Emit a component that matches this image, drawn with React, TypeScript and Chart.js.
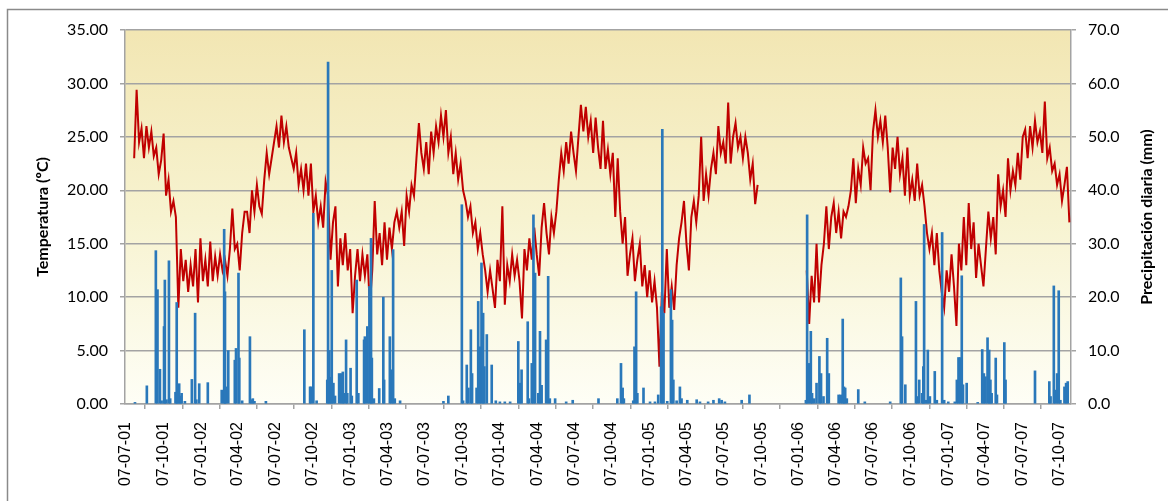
import React, { useEffect, useRef } from "react";
import { Chart, registerables } from "chart.js";
Chart.register(...registerables);

// Day 0 of the horizontal axis
const axisOrigin = "2001-07-07";

// Quarterly tick labels (dd-mm-yy)
const xTickLabels = [
  "07-07-01", "07-10-01", "07-01-02", "07-04-02", "07-07-02", "07-10-02",
  "07-01-03", "07-04-03", "07-07-03", "07-10-03", "07-01-04", "07-04-04",
  "07-07-04", "07-10-04", "07-01-05", "07-04-05", "07-07-05", "07-10-05",
  "07-01-06", "07-04-06", "07-07-06", "07-10-06", "07-01-07", "07-04-07",
  "07-07-07", "07-10-07",
];

// Temperature (ºC), one reading every tempStepDays days from tempStartDay
const tempStartDay = 20;
const tempStepDays = 6;
const tempValues: (number | null)[] = [
  // 2001-07 .. 2002-04
  23.0, 29.4, 24.5, 25.8, 23.0, 26.0, 24.0, 25.5, 23.2, 24.0, 21.5, 22.8, 25.3, 19.5, 21.0, 18.0,
  19.0, 17.5, 9.0, 14.5, 11.5, 13.5, 10.5, 13.0, 11.0, 14.5, 9.5, 15.5, 11.5, 13.5, 11.0, 15.2,
  11.5, 13.8, 12.0, 14.0, 12.5, 13.5, 12.0, 14.5, 18.3, 14.5, 15.0, 12.5, 16.0, 18.0,
  // 2002-04 .. 2003-02
  18.0, 16.0, 20.0, 18.0, 20.5, 18.5, 17.8, 21.0, 23.5, 21.5, 23.0, 24.5, 26.0, 24.0, 27.0, 24.5,
  26.0, 24.0, 23.0, 22.0, 23.5, 20.5, 22.0, 20.0, 22.5, 19.5, 22.5, 18.0, 19.5, 17.0, 18.5, 16.5,
  20.8, 19.5, 13.5, 17.0, 18.5, 11.0, 15.5, 13.0, 16.0, 12.5, 14.5, 8.5, 12.0, 14.5, 11.5, 14.0,
  // 2003-02 .. 2003-12
  12.0, 14.0, 9.2, 12.5, 19.0, 14.0, 16.0, 13.0, 17.0, 13.5, 16.5, 14.5, 17.0, 18.0, 16.5, 18.0,
  14.8, 19.5, 18.0, 20.5, 19.5, 23.0, 26.3, 23.5, 22.0, 24.5, 21.5, 25.5, 23.5, 26.0, 24.5, 27.0,
  25.0, 27.5, 23.5, 25.0, 21.5, 23.5, 21.0, 22.5, 20.0, 19.0, 17.5, 18.5, 16.0, 17.0, 14.5, 16.0,
  14.0, 12.5,
  // 2003-12 .. 2004-09
  10.5, 12.5, 10.8, 9.0, 13.5, 11.5, 18.5, 9.3, 13.0, 11.5, 14.0, 12.0, 13.5, 11.5, 8.0, 14.5,
  12.5, 15.5, 13.5, 16.5, 14.0, 12.0, 16.5, 18.8, 16.0, 14.0, 17.5, 16.0, 18.0, 21.0, 23.5, 21.8,
  24.5, 22.5, 25.5, 23.5, 21.8, 25.0, 28.0, 25.5, 27.8, 25.0, 26.5, 23.5, 26.8, 24.0, 22.0, 26.5,
  // 2004-09 .. 2005-07
  22.0, 23.8, 21.5, 23.5, 17.5, 23.0, 18.0, 15.0, 17.5, 12.0, 14.0, 15.5, 11.5, 13.5, 15.0, 11.0,
  13.0, 10.0, 12.5, 9.5, 11.5, 9.0, 3.5, 10.5, 8.5, 14.5, 9.0, 11.0, 8.8, 13.0, 15.5, 17.0,
  19.0, 15.0, 12.5, 17.5, 19.0, 17.0, 19.5, 25.0, 19.0, 21.5, 19.5, 22.0, 23.5, 21.5, 26.0, 23.5,
  24.5,
  // 2005-07 .. 2005-09
  22.5, 28.2, 22.5, 25.0, 26.3, 24.0, 25.0, 23.0, 25.0, 23.5, 21.0, 22.5, 18.7, 20.5,
  // no data
  null, null, null, null, null, null, null, null, null, null, null, null, null, null, null, null,
  null, null, null,
  // 2006-01 .. 2006-04
  12.5, 7.5, 12.0, 9.5, 15.0, 9.5, 13.0, 15.0, 18.5, 14.5, 17.5, 18.8, 16.0, 18.0, 15.5, 18.0,
  // 2006-04 .. 2007-02
  17.5, 18.5, 20.0, 23.0, 18.8, 22.0, 20.5, 24.0, 22.5, 23.0, 20.0, 25.5, 27.5, 25.0, 26.5, 24.5,
  27.0, 24.0, 19.8, 24.0, 22.0, 25.0, 21.5, 23.0, 19.5, 24.0, 19.5, 21.0, 19.0, 22.5, 19.5, 20.5,
  18.5, 16.0, 14.5, 16.0, 13.0, 16.0, 12.5, 10.5, 9.0, 12.5, 10.5, 14.0, 11.0, 7.3, 15.0, 12.5,
  17.5,
  // 2007-02 .. 2007-11
  13.0, 18.8, 14.5, 17.0, 11.8, 15.0, 13.0, 11.0, 14.5, 18.0, 15.5, 17.5, 14.0, 21.5, 18.5, 20.0,
  17.5, 23.0, 20.0, 21.8, 20.5, 23.5, 21.0, 25.0, 25.7, 23.0, 26.0, 24.0, 26.5, 24.5, 25.5, 23.5,
  28.3, 23.0, 24.0, 21.8, 22.5, 20.5, 21.5, 19.0, 20.5, 22.2, 17.0,
];

// Daily precipitation (mm): day number (from axisOrigin) and amount
const rainDays = [
  22, 51, 73, 77, 83, 87, 93, 95, 99, 105, 108, 121, 124, 126, 130, 133, 136, 144, 161, 169, 172, 179, 200,
  234, 240, 242, 244, 250, 266, 269, 275, 277, 284,
  303, 307, 310, 314, 342, 436, 450, 452, 458, 466, 492, 494, 497, 500, 503, 507, 511, 521, 526, 530, 533,
  538, 541, 549, 552, 564, 568, 582,
  584, 590, 595, 599, 601, 606, 619, 629, 631, 645, 649, 653, 657, 670, 776, 788, 821, 824, 833, 837, 843,
  846, 857, 861, 865, 869,
  873, 876, 882, 894, 904, 914, 926, 939, 959, 963, 967, 982, 985, 992, 996, 1000, 1008, 1012, 1016, 1027,
  1032, 1036, 1049, 1076, 1092, 1155,
  1201, 1210, 1214, 1217, 1240, 1243, 1247, 1250, 1265, 1281, 1293, 1301, 1308, 1311, 1314, 1323, 1332,
  1335, 1338, 1346, 1354, 1358, 1372, 1395, 1403, 1423, 1436, 1450, 1456,
  1464, 1505, 1524, 1662, 1665, 1669, 1674, 1677, 1682, 1688, 1695, 1699, 1705, 1714, 1718, 1742, 1747,
  1752, 1755, 1758, 1762, 1790, 1806, 1868, 1894, 1897, 1905, 1931, 1934, 1939, 1946, 1949, 1951, 1956,
  1960, 1965, 1977, 1982, 1995, 2000, 2010, 2026, 2031, 2035, 2039, 2043, 2046, 2055, 2082, 2093, 2097,
  2101, 2106, 2110, 2113, 2116, 2126, 2129, 2147, 2150, 2222, 2257, 2260, 2268, 2271, 2276, 2280, 2284,
  2294, 2298, 2302,
];
const rainMm = [
  0.3, 3.4, 28.7, 21.4, 6.5, 0.6, 14.5, 23.2, 0.8, 26.8, 1.0, 2.2, 19.0, 2.5, 3.8, 1.5, 2.0, 0.5, 4.6, 17.0, 0.8, 3.8, 4.0,
  2.6, 32.7, 21.0, 3.2, 10.0, 8.2, 10.4, 24.5, 8.6, 0.6,
  12.6, 0.8, 1.0, 0.5, 0.5, 13.9, 3.2, 3.2, 35.7, 0.6, 4.5, 64.0, 10.0, 5.0, 25.0, 3.9, 1.5, 5.7, 5.7, 6.0, 2.0,
  12.0, 2.0, 6.7, 1.5, 23.2, 2.0, 12.0,
  12.6, 14.5, 22.0, 31.0, 8.6, 1.0, 2.9, 20.0, 4.5, 12.6, 6.4, 28.9, 1.0, 0.6, 0.5, 1.5, 37.3, 0.6, 7.3, 3.0, 13.9,
  5.7, 3.0, 19.2, 10.7, 26.4,
  17.0, 7.0, 13.0, 7.3, 0.6, 0.4, 0.4, 0.4, 11.7, 3.9, 6.4, 15.4, 1.0, 7.6, 35.4, 24.5, 2.0, 13.6, 3.5, 12.0,
  23.9, 1.0, 1.0, 0.4, 0.7, 1.0,
  1.0, 7.6, 3.0, 1.0, 0.6, 10.7, 21.0, 2.0, 3.0, 0.4, 0.4, 1.7, 18.2, 51.4, 17.0, 0.5, 21.4,
  15.7, 4.5, 0.6, 3.2, 1.0, 0.7, 0.8, 0.4, 0.4, 0.7, 1.0, 0.7,
  0.4, 0.7, 1.7, 0.7, 35.4, 7.6, 13.6, 2.0, 1.0, 3.9, 8.9, 5.7, 1.4, 12.3, 5.7, 1.7, 1.7,
  15.9, 3.2, 3.0, 1.0, 2.7, 0.4, 0.4, 23.6, 12.6, 3.6, 19.2, 1.4, 4.5, 2.0, 7.0, 33.6, 0.7,
  10.1, 1.4, 6.1, 0.7, 32.1, 0.7, 0.4, 0.4, 4.5, 8.7, 8.7, 24.0, 3.6, 3.9, 0.3, 10.2, 5.7,
  5.1, 12.4, 10.1, 4.5, 2.0, 8.6, 1.7, 11.5, 4.5, 6.2, 4.2, 1.4, 22.1, 2.6, 5.7, 21.2, 0.7,
  3.2, 3.9, 4.2,
];

const leftTitle = "Temperatura (ºC)";
const rightTitle = "Precipitación diaria (mm)";

const DAY_MS = 86400000;
function dayOf(label: string): number {
  const [dd, mm, yy] = label.split("-").map(Number);
  const o = axisOrigin.split("-").map(Number);
  return (Date.UTC(2000 + yy, mm - 1, dd) - Date.UTC(o[0], o[1] - 1, o[2])) / DAY_MS;
}

export default function App() {
  const ref = useRef<HTMLCanvasElement | null>(null);

  useEffect(() => {
    if (!ref.current) return;
    const tickDays = xTickLabels.map(dayOf);
    const tempData = tempValues.map((v, i) => ({ x: tempStartDay + i * tempStepDays, y: v }));
    const rainData = rainDays.map((d, i) => ({ x: d, y: rainMm[i] }));

    const frame = {
      id: "frame",
      beforeDraw(chart: any) {
        const { ctx, chartArea: a, width, height } = chart;
        ctx.save();
        ctx.fillStyle = "#ffffff";
        ctx.fillRect(0, 0, width, height);
        ctx.strokeStyle = "#8a8a8a";
        ctx.lineWidth = 1.5;
        ctx.strokeRect(7.5, 9.5, width + 50, height + 50);
        const g = ctx.createLinearGradient(0, a.top, 0, a.bottom);
        g.addColorStop(0, "#F2E6B3");
        g.addColorStop(0.5, "#F7F3D0");
        g.addColorStop(1, "#FEFEF6");
        ctx.fillStyle = g;
        ctx.fillRect(a.left, a.top, a.right - a.left, a.bottom - a.top);
        ctx.restore();
      },
      afterDraw(chart: any) {
        const { ctx } = chart;
        const title = (text: string, x: number, y: number) => {
          ctx.save();
          ctx.fillStyle = "#000";
          ctx.font = "bold 16px Lato";
          ctx.textAlign = "center";
          ctx.textBaseline = "middle";
          ctx.translate(x, y);
          ctx.rotate(-Math.PI / 2);
          ctx.fillText(text, 0, 0);
          ctx.restore();
        };
        title(leftTitle, 43, 217);
        title(rightTitle, 1147, 217);
      },
    };

    const gridColor = "#a3a3a3";
    const chart = new Chart(ref.current, {
      type: "bar",
      data: {
        datasets: [
          {
            type: "bar",
            label: "Precipitación",
            data: rainData as any,
            yAxisID: "y1",
            backgroundColor: "#2A78BA",
            borderWidth: 0,
            barThickness: 2,
            grouped: false,
            order: 0,
          } as any,
          {
            type: "line",
            label: "Temperatura",
            data: tempData as any,
            yAxisID: "y",
            borderColor: "#C00000",
            borderWidth: 2,
            pointRadius: 0,
            tension: 0,
            spanGaps: false,
            order: 1,
          } as any,
        ],
      },
      options: {
        responsive: false,
        animation: false,
        devicePixelRatio: 1,
        layout: { padding: { top: 30, left: 0, right: 0, bottom: 0 }, autoPadding: false } as any,
        plugins: { legend: { display: false }, tooltip: { enabled: false } },
        scales: {
          x: {
            type: "linear",
            min: -2.4,
            max: 2310,
            offset: false,
            afterFit: (s: any) => { s.height = 97; },
            afterBuildTicks: (s: any) => { s.ticks = tickDays.map((v) => ({ value: v })); },
            grid: { drawOnChartArea: false, drawTicks: true, tickLength: 5, color: gridColor, lineWidth: 1.5 },
            border: { display: true, color: gridColor, width: 1.5 },
            ticks: {
              autoSkip: false,
              minRotation: 90,
              maxRotation: 90,
              padding: 13,
              color: "#000",
              font: { family: "Liberation Sans", size: 16 },
              callback: (_v: any, i: number) => xTickLabels[i],
            },
          },
          y: {
            type: "linear",
            position: "left",
            min: 0,
            max: 35,
            afterFit: (s: any) => { s.width = 125; },
            grid: { color: gridColor, lineWidth: 1.5, tickLength: 5 },
            border: { display: true, color: gridColor, width: 1.5 },
            ticks: {
              stepSize: 5,
              padding: 12,
              color: "#000",
              font: { family: "Lato", size: 16 },
              callback: (v: any) => Number(v).toFixed(2),
            },
          },
          y1: {
            type: "linear",
            position: "right",
            min: 0,
            max: 70,
            afterFit: (s: any) => { s.width = 97; },
            grid: { drawOnChartArea: false, color: gridColor, lineWidth: 1.5, tickLength: 5 },
            border: { display: true, color: gridColor, width: 1.5 },
            ticks: {
              stepSize: 10,
              padding: 12,
              color: "#000",
              font: { family: "Lato", size: 16 },
              callback: (v: any) => Number(v).toFixed(1),
            },
          },
        },
      } as any,
      plugins: [frame],
    });
    return () => chart.destroy();
  }, []);

  return (
    <div style={{ position: "fixed", left: 0, top: 0, width: 1168, height: 501 }}>
      <canvas ref={ref} width={1168} height={501} style={{ display: "block" }} />
    </div>
  );
}
